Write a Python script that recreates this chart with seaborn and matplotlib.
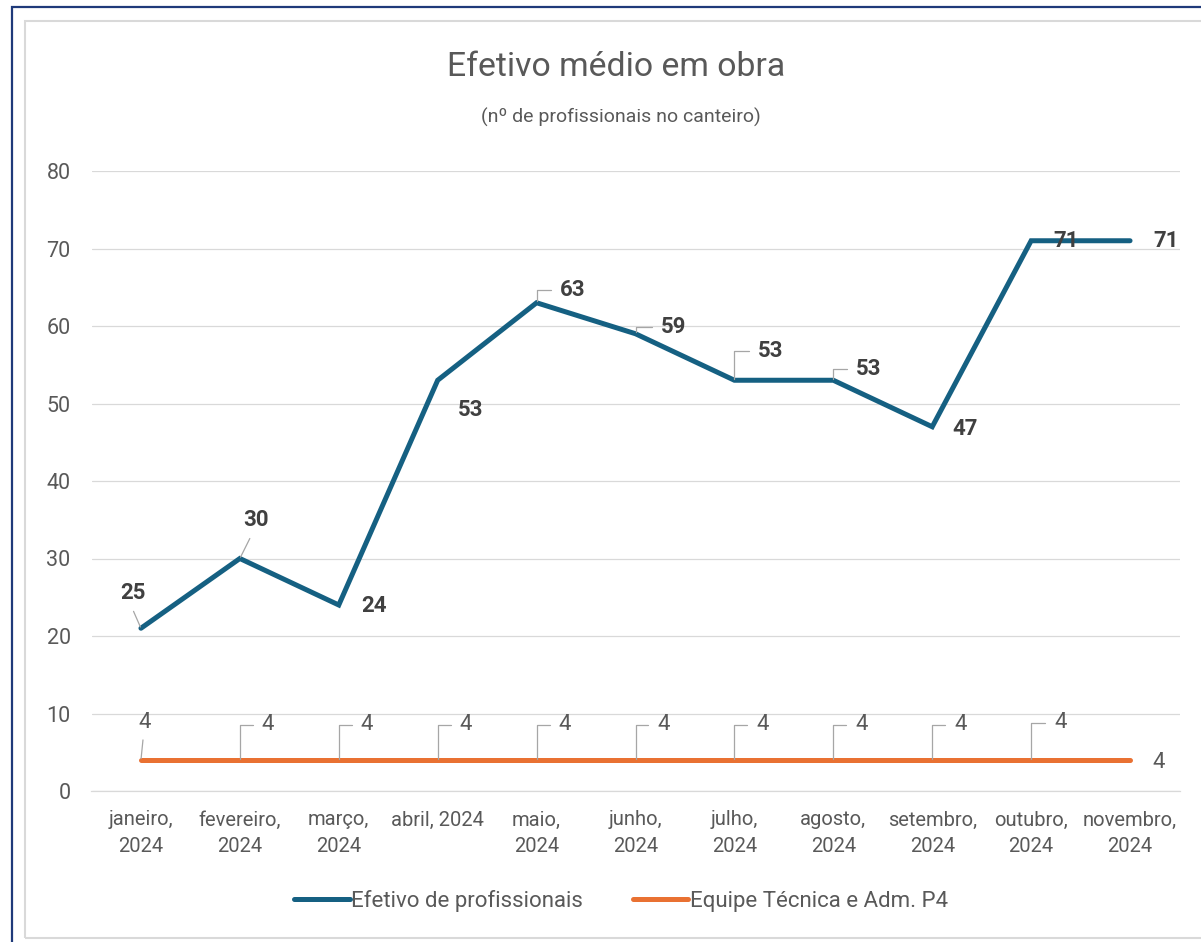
import matplotlib
matplotlib.use("Agg")
import matplotlib.pyplot as plt
import seaborn as sns
import pandas as pd
from matplotlib.patches import Rectangle

# ---------------- data ----------------
months = ["janeiro,\n2024", "fevereiro,\n2024", "março,\n2024", "abril, 2024",
          "maio,\n2024", "junho,\n2024", "julho,\n2024", "agosto,\n2024",
          "setembro,\n2024", "outubro,\n2024", "novembro,\n2024"]
efetivo = [21, 30, 24, 53, 63, 59, 53, 53, 47, 71, 71]
efetivo_labels = ["25", "30", "24", "53", "63", "59", "53", "53", "47", "71", "71"]
equipe = [4, 4, 4, 4, 4, 4, 4, 4, 4, 4, 4]
equipe_labels = ["4", "4", "4", "4", "4", "4", "4", "4", "4", "4", "4"]
series_names = ["Efetivo de profissionais", "Equipe Técnica e Adm. P4"]
yticks = [0, 10, 20, 30, 40, 50, 60, 70, 80]
title = "Efetivo médio em obra"
subtitle = "(nº de profissionais no canteiro)"

# ---------------- label layout (pixels: dx right, dy up) ----------------
blue_offsets = [(-8, 35), (16, 38), (35, -1), (33, -30), (36, 13), (38, 7),
                (36, 29), (35, 11), (33, -2), (35, 0), (36, 0)]
blue_leaders = ["diag", "diag", None, None, "elbow", "elbow", "elbow", "elbow",
                None, None, None]
orange_offsets = [(4, 38)] + [(28, 35)] * 8 + [(29, 37), (29, -2)]
orange_leaders = ["diag"] + ["elbow"] * 9 + [None]

BLUE = "#156082"
ORANGE = "#E97132"
GRID = "#D9D9D9"
TXT = "#595959"
LBL = "#404040"
LEAD = "#A6A6A6"

sns.set_theme(style="white")
plt.rcParams["font.family"] = ["Roboto", "DejaVu Sans"]

W, H = 1201, 942
fig = plt.figure(figsize=(W / 100, H / 100), dpi=100)
fig.patch.set_facecolor("white")

# frame decorations
fig.patches.append(Rectangle((25 / W, 1 - 938 / H), 1.2, (938 - 21) / H,
                             transform=fig.transFigure, fill=False,
                             edgecolor=GRID, lw=1.5, zorder=0))
fig.patches.append(Rectangle((12 / W, -0.1), 1.2, 1.1 - 7 / H,
                             transform=fig.transFigure, fill=False,
                             edgecolor="#1F3A7A", lw=1.6, zorder=0))

left, right, bottom, top = 91.5, 1179.5, 791, 171
ax = fig.add_axes([left / W, 1 - bottom / H, (right - left) / W, (bottom - top) / H])

n = len(months)
df = pd.DataFrame({
    "mes": list(range(n)) * 2,
    "valor": efetivo + equipe,
    "serie": [series_names[0]] * n + [series_names[1]] * n,
})
sns.lineplot(data=df, x="mes", y="valor", hue="serie", palette=[BLUE, ORANGE],
             linewidth=3.6, sort=False, ax=ax, legend=True)
for ln in ax.lines:
    ln.set_solid_capstyle("round")
    ln.set_solid_joinstyle("miter")

handles, labels = ax.get_legend_handles_labels()
ax.get_legend().remove()

ax.set_xlim(-0.5, n - 0.5)
ax.set_ylim(0, 80)
ax.set_yticks(yticks)
ax.set_yticklabels([str(v) for v in yticks])
ax.set_xticks(range(n))
ax.set_xticklabels(months)
ax.set_xticks([i - 0.5 for i in range(n + 1)], minor=True)
ax.tick_params(axis="x", which="major", length=0, pad=14, labelsize=14.5, labelcolor=TXT)
ax.tick_params(axis="x", which="minor", length=6, width=0.8, color=GRID, direction="out")
ax.tick_params(axis="y", length=0, pad=15, labelsize=15.5, labelcolor=TXT)
for t in ax.get_xticklabels():
    t.set_linespacing(1.5)
ax.set_xlabel("")
ax.set_ylabel("")
ax.grid(axis="y", color=GRID, lw=0.9)
ax.grid(axis="x", visible=False)
ax.set_axisbelow(True)
for s in ["left", "right", "top"]:
    ax.spines[s].set_visible(False)
ax.spines["bottom"].set_color(GRID)
ax.spines["bottom"].set_linewidth(0.9)
ax.set_facecolor("none")

PX = 0.72  # pixels -> points


def put_labels(vals, texts, offsets, leaders, weight, color):
    for i, (v, t, (dx, dy), ld) in enumerate(zip(vals, texts, offsets, leaders)):
        arrow = None
        if ld == "elbow":
            arrow = dict(arrowstyle="-", color=LEAD, lw=0.9, shrinkA=4, shrinkB=1,
                         relpos=(0, 0.5),
                         connectionstyle="angle,angleA=0,angleB=90,rad=0")
        elif ld == "diag":
            arrow = dict(arrowstyle="-", color=LEAD, lw=0.9, shrinkA=3, shrinkB=1,
                         relpos=(0.4, 0), connectionstyle="arc3")
        ax.annotate(t, xy=(i, v), xytext=(dx * PX, dy * PX), textcoords="offset points",
                    ha="center", va="center", fontsize=16, fontweight=weight,
                    color=color, arrowprops=arrow, zorder=5, annotation_clip=False)


put_labels(efetivo, efetivo_labels, blue_offsets, blue_leaders, "bold", LBL)
put_labels(equipe, equipe_labels, orange_offsets, orange_leaders, "normal", TXT)

fig.text(616 / W, 1 - 67 / H, title, ha="center", va="center", fontsize=24.3, color=TXT)
fig.text(621 / W, 1 - 117 / H, subtitle, ha="center", va="center", fontsize=14, color=TXT)

leg = fig.legend(handles, labels, loc="center", bbox_to_anchor=(621 / W, 1 - 901 / H),
                 ncol=2, frameon=False, fontsize=16, handlelength=2.5,
                 handletextpad=0.05, columnspacing=2.25)
for txt in leg.get_texts():
    txt.set_color(TXT)
for lh in leg.get_lines():
    lh.set_linewidth(3.6)
    lh.set_solid_capstyle("round")

fig.savefig("out.png", dpi=100)
